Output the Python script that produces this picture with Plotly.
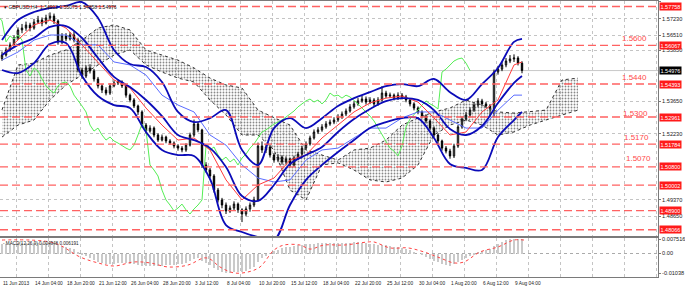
import plotly.graph_objects as go

# ---------------- price candles (one candle per 2 H4 bars) ----------------
cndl_bars = list(range(0, 262, 2))
first_open = 1.5550
close = [
    1.5565, 1.5587, 1.5609, 1.5639, 1.5674, 1.5682, 1.5695, 1.5682, 1.5708, 1.5717,
    1.5704, 1.5726, 1.5734, 1.5713, 1.5622, 1.5648, 1.5635, 1.5652, 1.5630, 1.5500,
    1.5474, 1.5509, 1.5496, 1.5461, 1.5431, 1.5413, 1.5400, 1.5431, 1.5444, 1.5448,
    1.5431, 1.5391, 1.5370, 1.5344, 1.5318, 1.5261, 1.5235, 1.5248, 1.5218, 1.5196,
    1.5209, 1.5192, 1.5183, 1.5170, 1.5161, 1.5153, 1.5174, 1.5218, 1.5266, 1.5240,
    1.5088, 1.5066, 1.5040, 1.4979, 1.4936, 1.4914, 1.4888, 1.4901, 1.4918, 1.4893,
    1.4875, 1.4897, 1.4914, 1.4936, 1.5170, 1.5153, 1.5166, 1.5131, 1.5109, 1.5122,
    1.5101, 1.5114, 1.5088, 1.5118, 1.5135, 1.5161, 1.5179, 1.5205, 1.5231, 1.5240,
    1.5253, 1.5266, 1.5274, 1.5283, 1.5296, 1.5309, 1.5322, 1.5340, 1.5353, 1.5366,
    1.5374, 1.5361, 1.5370, 1.5353, 1.5370, 1.5400, 1.5387, 1.5391, 1.5378, 1.5391,
    1.5383, 1.5370, 1.5353, 1.5335, 1.5318, 1.5300, 1.5279, 1.5248, 1.5218, 1.5192,
    1.5161, 1.5148, 1.5127, 1.5170, 1.5253, 1.5287, 1.5305, 1.5326, 1.5348, 1.5366,
    1.5353, 1.5344, 1.5331, 1.5491, 1.5504, 1.5522, 1.5539, 1.5548, 1.5552, 1.5530,
    1.5498,
]
high = [
    1.5580, 1.5598, 1.5620, 1.5650, 1.5685, 1.5700, 1.5710, 1.5705, 1.5722, 1.5735,
    1.5728, 1.5740, 1.5750, 1.5745, 1.5720, 1.5660, 1.5660, 1.5665, 1.5668, 1.5640,
    1.5510, 1.5520, 1.5525, 1.5505, 1.5470, 1.5440, 1.5425, 1.5442, 1.5455, 1.5460,
    1.5455, 1.5438, 1.5398, 1.5378, 1.5350, 1.5325, 1.5270, 1.5260, 1.5255, 1.5225,
    1.5220, 1.5215, 1.5200, 1.5190, 1.5178, 1.5170, 1.5182, 1.5228, 1.5285, 1.5275,
    1.5245, 1.5100, 1.5075, 1.5048, 1.4988, 1.4945, 1.4925, 1.4912, 1.4930, 1.4925,
    1.4900, 1.4908, 1.4925, 1.4950, 1.5185, 1.5190, 1.5180, 1.5175, 1.5140, 1.5135,
    1.5130, 1.5125, 1.5120, 1.5128, 1.5145, 1.5170, 1.5190, 1.5215, 1.5242, 1.5252,
    1.5265, 1.5278, 1.5285, 1.5295, 1.5308, 1.5320, 1.5333, 1.5352, 1.5365, 1.5378,
    1.5388, 1.5385, 1.5382, 1.5378, 1.5382, 1.5430, 1.5410, 1.5402, 1.5398, 1.5403,
    1.5400, 1.5392, 1.5378, 1.5360, 1.5342, 1.5325, 1.5308, 1.5285, 1.5255, 1.5225,
    1.5198, 1.5170, 1.5158, 1.5180, 1.5262, 1.5298, 1.5318, 1.5338, 1.5360, 1.5378,
    1.5375, 1.5362, 1.5352, 1.5502, 1.5518, 1.5535, 1.5552, 1.5565, 1.5568, 1.5560,
    1.5538,
]
low = [
    1.5540, 1.5558, 1.5580, 1.5600, 1.5630, 1.5660, 1.5670, 1.5668, 1.5675, 1.5700,
    1.5690, 1.5698, 1.5715, 1.5700, 1.5610, 1.5612, 1.5625, 1.5628, 1.5620, 1.5490,
    1.5462, 1.5465, 1.5485, 1.5450, 1.5420, 1.5400, 1.5390, 1.5392, 1.5425, 1.5435,
    1.5422, 1.5380, 1.5360, 1.5335, 1.5305, 1.5250, 1.5225, 1.5228, 1.5208, 1.5188,
    1.5190, 1.5182, 1.5175, 1.5160, 1.5150, 1.5143, 1.5145, 1.5168, 1.5210, 1.5230,
    1.5075, 1.5055, 1.5030, 1.4968, 1.4925, 1.4900, 1.4875, 1.4880, 1.4890, 1.4880,
    1.4840, 1.4865, 1.4885, 1.4905, 1.4930, 1.5140, 1.5140, 1.5120, 1.5098, 1.5100,
    1.5090, 1.5092, 1.5078, 1.5080, 1.5110, 1.5128, 1.5152, 1.5172, 1.5198, 1.5222,
    1.5232, 1.5245, 1.5258, 1.5265, 1.5275, 1.5288, 1.5300, 1.5315, 1.5332, 1.5345,
    1.5358, 1.5350, 1.5352, 1.5342, 1.5345, 1.5362, 1.5378, 1.5378, 1.5368, 1.5370,
    1.5372, 1.5360, 1.5342, 1.5325, 1.5308, 1.5290, 1.5268, 1.5238, 1.5208, 1.5180,
    1.5150, 1.5138, 1.5115, 1.5118, 1.5162, 1.5245, 1.5278, 1.5295, 1.5318, 1.5338,
    1.5342, 1.5335, 1.5300, 1.5295, 1.5480, 1.5495, 1.5512, 1.5530, 1.5535, 1.5520,
    1.5486,
]
opens = [first_open] + close[:-1]

# ---------------- indicator lines, sampled every 8 bars ----------------
line_bars = list(range(0, 257, 8)) + [260]
bb_upper = [1.5630, 1.5717, 1.5752, 1.5769, 1.5778, 1.5795, 1.5726, 1.5587, 1.5526, 1.5513,
            1.5448, 1.5318, 1.5274, 1.5291, 1.5326, 1.5153, 1.5088, 1.5248, 1.5291, 1.5248,
            1.5291, 1.5344, 1.5378, 1.5404, 1.5430, 1.5439, 1.5430, 1.5461, 1.5404, 1.5370,
            1.5439, 1.5509, 1.5622, 1.5635]
bb_mid = [1.5565, 1.5609, 1.5639, 1.5687, 1.5691, 1.5639, 1.5552, 1.5470, 1.5426, 1.5370,
          1.5300, 1.5218, 1.5196, 1.5161, 1.5079, 1.4953, 1.4932, 1.5001, 1.5092, 1.5131,
          1.5166, 1.5231, 1.5287, 1.5331, 1.5365, 1.5378, 1.5370, 1.5326, 1.5244, 1.5218,
          1.5257, 1.5357, 1.5444, 1.5474]
bb_lower = [1.5500, 1.5487, 1.5530, 1.5613, 1.5617, 1.5474, 1.5387, 1.5348, 1.5335, 1.5231,
            1.5153, 1.5131, 1.5127, 1.5027, 1.4827, 1.4797, 1.4775, 1.4762, 1.4914, 1.5023,
            1.5088, 1.5144, 1.5196, 1.5248, 1.5274, 1.5291, 1.5291, 1.5205, 1.5092, 1.5075,
            1.5066, 1.5209, 1.5283, 1.5318]
tenkan = [1.5565, 1.5630, 1.5696, 1.5717, 1.5682, 1.5609, 1.5535, 1.5457, 1.5422, 1.5335,
          1.5261, 1.5196, 1.5205, 1.5153, 1.5023, 1.4936, 1.5001, 1.5031, 1.5109, 1.5131,
          1.5205, 1.5261, 1.5318, 1.5357, 1.5378, 1.5387, 1.5361, 1.5292, 1.5218, 1.5231,
          1.5318, 1.5370, 1.5522, 1.5535]
kijun = [1.5543, 1.5578, 1.5630, 1.5652, 1.5652, 1.5609, 1.5609, 1.5535, 1.5522, 1.5478,
         1.5391, 1.5348, 1.5318, 1.5218, 1.5174, 1.5088, 1.5031, 1.5014, 1.5023, 1.5109,
         1.5153, 1.5161, 1.5205, 1.5248, 1.5248, 1.5292, 1.5318, 1.5318, 1.5283, 1.5248,
         1.5248, 1.5326, 1.5391, 1.5391]

# Ichimoku cloud (already shifted 26 bars forward)
cloud_bars = list(range(0, 289, 8))
span_a = [1.5327, 1.5522, 1.5530, 1.5565, 1.5587, 1.5630, 1.5682, 1.5696, 1.5674, 1.5587,
          1.5565, 1.5543, 1.5509, 1.5465, 1.5435, 1.5422, 1.5326, 1.5292, 1.5261, 1.5153,
          1.5131, 1.5109, 1.5153, 1.5161, 1.5196, 1.5261, 1.5292, 1.5318, 1.5335, 1.5370,
          1.5348, 1.5318, 1.5313, 1.5318, 1.5326, 1.5457, 1.5465]
span_b = [1.5209, 1.5261, 1.5283, 1.5370, 1.5435, 1.5478, 1.5522, 1.5565, 1.5587, 1.5522,
          1.5491, 1.5465, 1.5448, 1.5370, 1.5305, 1.5218, 1.5218, 1.5153, 1.4979, 1.4936,
          1.5088, 1.5097, 1.5066, 1.5023, 1.5014, 1.5031, 1.5088, 1.5218, 1.5261, 1.5283,
          1.5261, 1.5218, 1.5231, 1.5261, 1.5283, 1.5305, 1.5326]
chikou_shift = 26

# ---------------- MACD panel ----------------
macd_hist = [
    4.8, 4.9, 5.0, 5.2, 5.4, 5.5, 5.5, 5.4, 5.4, 5.4,
    5.3, 5.3, 5.3, 5.1, 4.3, 3.8, 3.3, 3.0, 2.5, 0.8,
    -0.8, -1.5, -2.3, -3.2, -4.2, -5.0, -5.5, -5.4, -5.2, -5.0,
    -4.9, -5.1, -5.4, -5.6, -5.8, -6.3, -6.6, -6.5, -6.5, -6.5,
    -6.3, -6.1, -5.9, -5.8, -5.7, -5.6, -5.0, -4.0, -2.7, -2.4,
    -3.8, -5.0, -6.2, -7.6, -8.8, -9.6, -10.2, -10.2, -9.8, -9.6,
    -9.4, -8.9, -8.2, -7.2, -4.5, -2.5, -1.2, 0.2, 1.2, 2.0,
    2.7, 3.2, 3.4, 3.8, 4.3, 4.6, 4.8, 5.0, 5.2, 5.4,
    5.5, 5.6, 5.6, 5.6, 5.6, 5.6, 5.6, 5.7, 5.8, 5.8,
    5.6, 5.4, 5.1, 4.8, 4.5, 4.4, 4.2, 3.9, 3.6, 3.3,
    2.8, 2.3, 1.6, 0.8, 0.0, -0.8, -1.7, -2.7, -3.8, -4.6,
    -5.4, -5.9, -6.3, -5.6, -4.6, -3.5, -2.5, -1.5, -0.5, 0.5,
    1.3, 1.8, 2.2, 4.0, 5.0, 6.0, 6.8, 7.3, 7.6, 7.6,
    7.4,
]  # x 1e-3
sig_bars = [0, 26, 39, 48, 56, 66, 74, 83, 93, 101, 104, 109, 116, 123, 129, 136, 141,
            149, 154, 161, 171, 183, 186, 194, 203, 211, 219, 226, 231, 239, 248, 256, 261]
sig_vals = [7.0, 5.5, -1.8, -4.9, -6.5, -4.4, -4.9, -7.0, -6.0, -2.3, -2.9, -7.0, -10.1,
            -9.6, -7.0, 1.8, 4.4, 4.4, 2.3, 4.4, 4.4, 6.0, 6.0, 2.9, 2.9, 0.8, -2.3, -4.9,
            -4.4, 0.8, 3.4, 7.0, 7.0]  # x 1e-3

# ---------------- levels / labels ----------------
levels = [1.57758, 1.56067, 1.54393, 1.52961, 1.51784, 1.50800, 1.50002, 1.48900, 1.48066]
target_text = ["1.5600", "1.5440", "1.5300", "1.5170", "1.5070"]
target_y = [1.5639, 1.5466, 1.5313, 1.5205, 1.5114]
target_x = [316, 316, 316.5, 317, 318]
price_ticks = [1.57960, 1.57230, 1.56510, 1.55850, 1.53650, 1.52230, 1.49370, 1.48650]
last_price = 1.54976
date_labels = ["11 Jun 2013", "14 Jun 04:00", "18 Jun 20:00", "21 Jun 12:00", "26 Jun 04:00",
               "28 Jun 20:00", "3 Jul 12:00", "8 Jul 04:00", "10 Jul 20:00", "15 Jul 12:00",
               "18 Jul 04:00", "22 Jul 20:00", "25 Jul 12:00", "30 Jul 04:00", "1 Aug 20:00",
               "6 Aug 12:00", "9 Aug 04:00"]
date_bars = [16 * k - 0.5 for k in range(len(date_labels))]
title = "GBPUSD,H4  1.54912 1.55075 1.54858 1.54976"
macd_title = "MACD(12,26,9) 0.004948 0.006191"

FONT = "Liberation Sans, Arial, sans-serif"
BB = "#0b0bb8"

fig = go.Figure()
# cloud
fig.add_trace(go.Scatter(x=cloud_bars, y=span_a, mode="lines", line=dict(color="#333", width=1, dash="dot"),
                         hoverinfo="skip"))
fig.add_trace(go.Scatter(x=cloud_bars, y=span_b, mode="lines", line=dict(color="#333", width=1, dash="dot"),
                         fill="tonexty", fillcolor="rgba(255,255,255,0)",
                         fillpattern=dict(shape=".", fgcolor="#111", bgcolor="rgba(255,255,255,0)",
                                          size=3, solidity=0.3),
                         hoverinfo="skip"))
# chikou
fig.add_trace(go.Scatter(x=[b - chikou_shift for b in cndl_bars], y=close, mode="lines",
                         line=dict(color="#55ee55", width=1)))
# candles
fig.add_trace(go.Candlestick(x=cndl_bars, open=opens, high=high, low=low, close=close,
                             increasing=dict(line=dict(color="black", width=1), fillcolor="white"),
                             decreasing=dict(line=dict(color="black", width=1), fillcolor="black"),
                             whiskerwidth=0))
# ichimoku lines
fig.add_trace(go.Scatter(x=line_bars, y=kijun, mode="lines", line=dict(color="#5a6cff", width=1)))
fig.add_trace(go.Scatter(x=line_bars, y=tenkan, mode="lines", line=dict(color="#ff3b3b", width=1)))
# bollinger
for s in (bb_upper, bb_mid, bb_lower):
    fig.add_trace(go.Scatter(x=line_bars, y=s, mode="lines", line=dict(color=BB, width=1.8, shape="spline")))

# MACD
fig.add_trace(go.Bar(x=cndl_bars, y=[v / 1000 for v in macd_hist], xaxis="x2", yaxis="y2",
                     marker=dict(color="#cacaca", line=dict(width=0)), width=1.0))
fig.add_trace(go.Scatter(x=sig_bars, y=[v / 1000 for v in sig_vals], xaxis="x2", yaxis="y2", mode="lines",
                         line=dict(color="#ff4444", width=1, dash="dot", shape="spline")))

shapes = []
for lv in levels:
    shapes.append(dict(type="line", xref="x domain", x0=0, x1=1, yref="y", y0=lv, y1=lv,
                       line=dict(color="#ff6262", width=1.3, dash="8px,4px"), layer="above"))
shapes.append(dict(type="line", xref="x domain", x0=0, x1=1, yref="y", y0=last_price, y1=last_price,
                   line=dict(color="#c8c8c8", width=1), layer="below"))
shapes.append(dict(type="line", xref="x2 domain", x0=0, x1=1, yref="y2", y0=0, y1=0,
                   line=dict(color="#aaaaaa", width=1, dash="dot"), layer="below"))

ann = []
for lv in levels:
    ann.append(dict(x=1, xref="paper", xanchor="left", xshift=1, y=lv, yref="y", text=f"{lv:.5f}",
                    showarrow=False, bgcolor="#ff1a1a", font=dict(color="white", size=5.5, family=FONT),
                    borderpad=0.5))
ann.append(dict(x=1, xref="paper", xanchor="left", xshift=1, y=last_price, yref="y", text=f"{last_price:.5f}",
                showarrow=False, bgcolor="#000", font=dict(color="white", size=5.5, family=FONT), borderpad=0.5))
for t, yv, xv in zip(target_text, target_y, target_x):
    ann.append(dict(x=xv, y=yv, xref="x", yref="y", text=t, showarrow=False,
                    font=dict(color="#ff4a4a", size=8, family=FONT)))
for t, b in zip(date_labels, date_bars):
    ann.append(dict(x=b, xref="x2", xanchor="left", y=0, yref="paper", yanchor="top", yshift=-2, text=t,
                    showarrow=False, font=dict(color="#222", size=4.8, family=FONT)))
ann.append(dict(x=0, xref="paper", xanchor="left", xshift=2, y=1, yref="paper", yanchor="top", yshift=-1,
                text="▾ " + title, showarrow=False, font=dict(color="#111", size=5, family=FONT)))
ann.append(dict(x=0, xref="paper", xanchor="left", xshift=1, y=0.1413, yref="paper", yanchor="top", yshift=-1,
                text="- " + macd_title, showarrow=False, font=dict(color="#222", size=4.6, family=FONT)))

axis_common = dict(showline=True, mirror=True, linecolor="#7a7a7a", linewidth=1, zeroline=False)
fig.update_layout(
    width=685, height=288, margin=dict(l=0, r=27, t=1, b=11),
    paper_bgcolor="white", plot_bgcolor="white", showlegend=False, bargap=0, boxgap=0.5,
    xaxis=dict(domain=[0, 1], range=[-1, 328], anchor="y", tick0=7, dtick=16, showticklabels=False,
               ticks="", showgrid=True, gridcolor="#c4c4c4", griddash="dot", gridwidth=1,
               rangeslider=dict(visible=False), **axis_common),
    xaxis2=dict(domain=[0, 1], range=[-1, 328], anchor="y2", matches="x", tick0=7, dtick=16,
                showticklabels=False, ticks="", showgrid=True, gridcolor="#c4c4c4", griddash="dot", **axis_common),
    yaxis=dict(domain=[0.1486, 1], range=[1.47796, 1.57996], side="right", anchor="x",
               tickvals=price_ticks, ticktext=[f"{v:.5f}" for v in price_ticks],
               tickfont=dict(size=5.6, color="#222", family=FONT), ticks="outside", ticklen=2,
               tickcolor="#7a7a7a", showgrid=True, gridcolor="#c4c4c4", griddash="dot", **axis_common),
    yaxis2=dict(domain=[0, 0.1413], range=[-0.01222, 0.00806], side="right", anchor="x2",
                tickvals=[0.007516, 0, -0.01038], ticktext=["0.007516", "0.00", "-0.01038"],
                tickfont=dict(size=5.6, color="#222", family=FONT), ticks="outside", ticklen=2,
                tickcolor="#7a7a7a", showgrid=False, **axis_common),
    shapes=shapes, annotations=ann,
)
fig.write_html("out.html")
